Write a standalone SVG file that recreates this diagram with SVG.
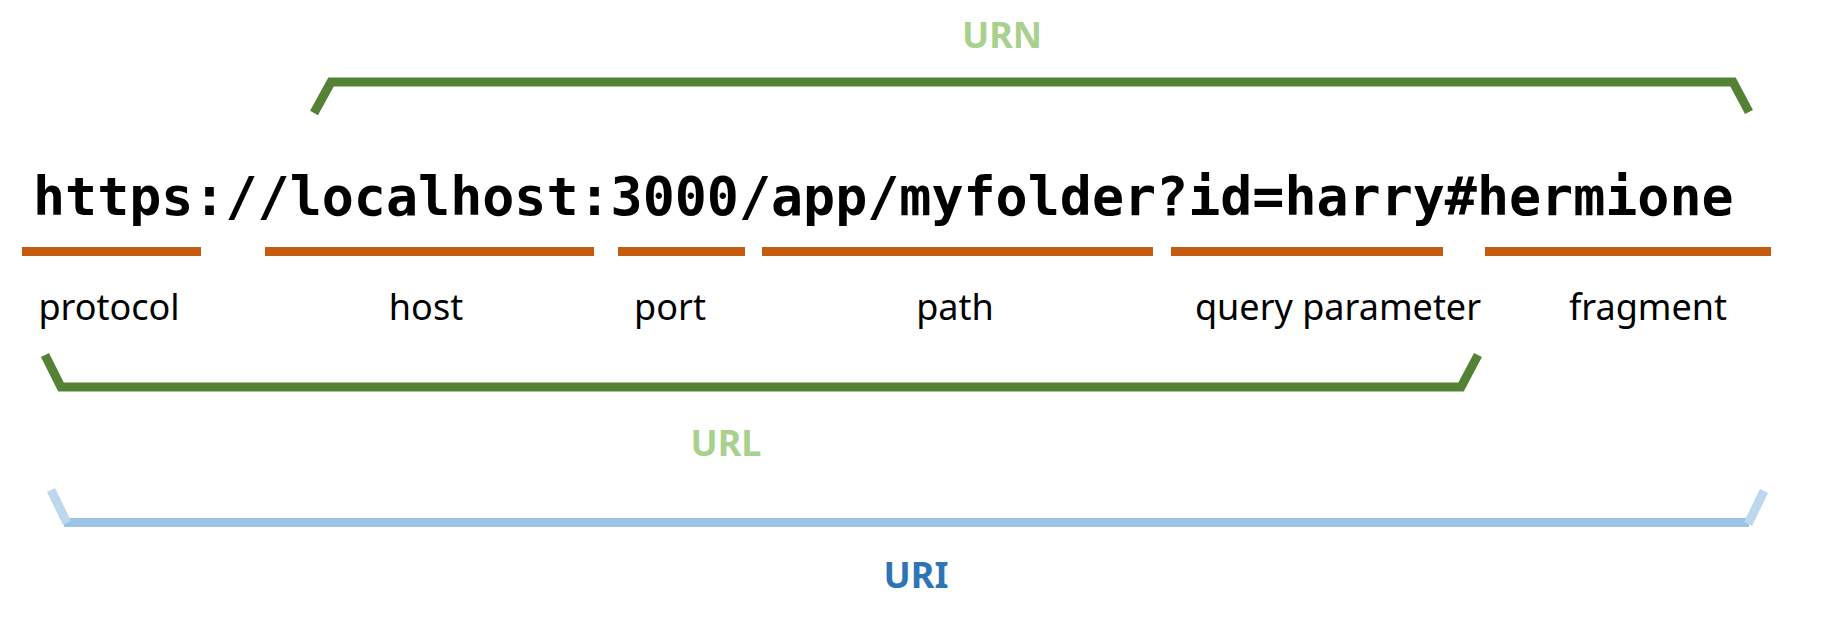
<svg xmlns="http://www.w3.org/2000/svg" width="1824" height="620" viewBox="0 0 1824 620">
<style>
.url{font-family:"DejaVu Sans Mono","Liberation Mono",monospace;font-weight:bold;font-size:53.3px;fill:#000}
.lbl{font-family:"Noto Sans","Open Sans",sans-serif;font-size:36px;fill:#000;text-anchor:middle}
.ttl{font-family:"Noto Sans","Open Sans",sans-serif;font-weight:bold;font-size:36px;text-anchor:middle}
.seg{fill:#C55A11}
.brk{fill:none;stroke-width:9;stroke-linejoin:miter;stroke-linecap:butt}
</style>
<rect width="1824" height="620" fill="#fff"/>
<g id="url-text"><text class="url" x="33" y="215">https://localhost:3000/app/myfolder?id=harry#hermione</text></g>
<g id="protocol"><rect class="seg" x="22" y="247" width="179" height="9"/><text class="lbl" x="109" y="320">protocol</text></g>
<g id="host"><rect class="seg" x="265" y="247" width="329" height="9"/><text class="lbl" x="426" y="320">host</text></g>
<g id="port"><rect class="seg" x="618" y="247" width="127" height="9"/><text class="lbl" x="670" y="320">port</text></g>
<g id="path"><rect class="seg" x="762" y="247" width="391" height="9"/><text class="lbl" x="955" y="320">path</text></g>
<g id="query"><rect class="seg" x="1171" y="247" width="272" height="9"/><text class="lbl" x="1338" y="320">query parameter</text></g>
<g id="fragment"><rect class="seg" x="1485" y="247" width="286" height="9"/><text class="lbl" x="1648" y="320">fragment</text></g>
<g id="connectors">
<polyline class="brk" stroke="#548235" points="314,113 331,82 1733,82 1749,112"/>
<polyline class="brk" stroke="#548235" points="45,355 61,387 1461,387 1478,355"/>
<line x1="64" y1="522.5" x2="1749" y2="522.5" stroke="#9DC3E6" stroke-width="9"/>
<line x1="51" y1="490" x2="67" y2="523" stroke="#BDD7EE" stroke-width="9"/>
<line x1="1764" y1="491" x2="1748" y2="524" stroke="#BDD7EE" stroke-width="9"/>
</g>
<g id="urn"><text class="ttl" x="1002" y="48" fill="#A9D18E">URN</text></g>
<g id="url"><text class="ttl" x="726" y="456" fill="#A9D18E">URL</text></g>
<g id="uri"><text class="ttl" x="916" y="588" fill="#2E75B6">URI</text></g>
</svg>
